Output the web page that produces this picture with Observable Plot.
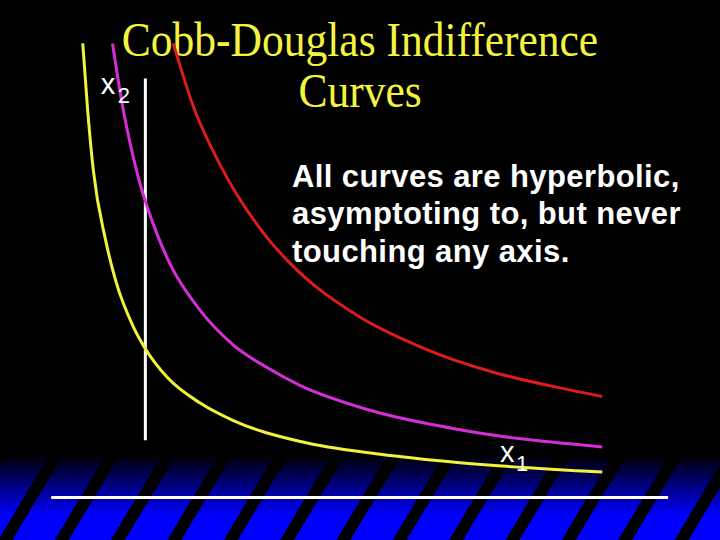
<!DOCTYPE html>
<html>
<head>
<meta charset="utf-8">
<script src="https://cdn.jsdelivr.net/npm/d3@7"></script>
<script src="https://cdn.jsdelivr.net/npm/@observablehq/plot@0.6"></script>
<style>
  html, body { margin: 0; padding: 0; background: #000; }
  #slide { position: relative; width: 720px; height: 540px; background: #000; overflow: hidden; }
  #band {
    position: absolute; left: 0; top: 455px; width: 720px; height: 85px;
    background:
      linear-gradient(to bottom, rgba(0,0,0,1) 0%, rgba(0,0,0,0) 72%),
      repeating-linear-gradient(121deg, #000 0px, #000 6px, #0000ff 6px, #0000ff 42.3px, #000 42.3px, #000 48.3px);
  }
  .title {
    position: absolute; left: 0; width: 720px; text-align: center;
    font-family: "Liberation Serif", "Times New Roman", serif;
    font-size: 43.5px; line-height: 1; color: #f4f43e; white-space: nowrap;
    transform: scaleY(1.1); transform-origin: 50% 36.4px;
  }
  #body {
    position: absolute; left: 292px; top: 157.5px;
    font-family: "Liberation Sans", Arial, sans-serif; font-weight: bold;
    font-size: 31px; line-height: 37.5px; letter-spacing: 0.4px; color: #fff; white-space: nowrap;
  }
  #chart { position: absolute; left: 0; top: 0; }
</style>
</head>
<body>
<div id="slide">
  <div id="band"></div>
  <div class="title" style="top:19.6px">Cobb-Douglas Indifference</div>
  <div class="title" style="top:70.6px">Curves</div>
  <div id="body">All curves are hyperbolic,<br>asymptoting to, but never<br>touching any axis.</div>
  <div id="chart"></div>
</div>
<script>
// Indifference curves (x1, x2 in chart units)
const yellowX = [0.52, 0.60, 0.69, 0.89, 1.05, 1.34, 1.53, 1.89, 2.42, 2.95, 4.03, 5.32, 6.56, 8.90];
const yellowY = [9.98, 8.50, 7.20, 5.65, 4.77, 3.74, 3.27, 2.63, 2.07, 1.69, 1.23, 0.95, 0.77, 0.56];
const magentaX = [1.00, 1.16, 1.40, 1.73, 1.94, 2.42, 2.95, 3.50, 4.03, 4.95, 6.56, 8.90];
const magentaY = [9.98, 8.62, 7.12, 5.75, 5.10, 4.10, 3.35, 2.85, 2.46, 2.00, 1.50, 1.11];
const redX = [1.98, 2.31, 2.74, 3.50, 3.87, 4.95, 6.02, 7.10, 8.18, 8.90];
const redY = [9.98, 8.57, 7.30, 5.70, 5.14, 4.00, 3.28, 2.77, 2.42, 2.22];

// axis lines
const x2AxisAt = [1.53];
const x2AxisSpan = [1.25, 9.2];
const x1AxisAt = [0];
const x1AxisSpan = [0.02, 9.97];

// axis labels
const labelMain = ["x", "x"];
const labelMainX = [0.81, 7.25];
const labelMainY = [8.87, 0.77];
const labelSub = ["2", "1"];
const labelSubX = [1.085, 7.51];
const labelSubY = [8.66, 0.59];

const toRows = (xs, ys) => xs.map((x, i) => ({x, y: ys[i]}));
const yellow = toRows(yellowX, yellowY);
const magenta = toRows(magentaX, magentaY);
const red = toRows(redX, redY);
const mains = labelMain.map((t, i) => ({t, x: labelMainX[i], y: labelMainY[i]}));
const subs = labelSub.map((t, i) => ({t, x: labelSubX[i], y: labelSubY[i]}));

const lineOpts = {x: "x", y: "y", curve: "monotone-x", strokeWidth: 3, strokeLinecap: "butt"};

const chart = Plot.plot({
  width: 720,
  height: 540,
  marginTop: 0, marginRight: 0, marginBottom: 0, marginLeft: 0,
  style: {background: "transparent", color: "white", overflow: "visible"},
  x: {domain: [0, 10], range: [50, 670], axis: null},
  y: {domain: [0, 10], range: [497, 42], axis: null},
  marks: [
    Plot.ruleY(x1AxisAt, {y: d => d, x1: x1AxisSpan[0], x2: x1AxisSpan[1], stroke: "white", strokeWidth: 3}),
    Plot.ruleX(x2AxisAt, {x: d => d, y1: x2AxisSpan[0], y2: x2AxisSpan[1], stroke: "white", strokeWidth: 3}),
    Plot.line(yellow, {...lineOpts, stroke: "#f2f23a"}),
    Plot.line(magenta, {...lineOpts, stroke: "#d62ed6"}),
    Plot.line(red, {...lineOpts, stroke: "#dc1c1c"}),
    Plot.text(mains, {x: "x", y: "y", text: "t", fill: "white", fontSize: 29, textAnchor: "start", lineAnchor: "bottom", fontFamily: "Liberation Sans, Arial, sans-serif"}),
    Plot.text(subs, {x: "x", y: "y", text: "t", fill: "white", fontSize: 22, textAnchor: "start", lineAnchor: "bottom", fontFamily: "Liberation Sans, Arial, sans-serif"})
  ]
});
document.getElementById("chart").appendChild(chart);
</script>
</body>
</html>
